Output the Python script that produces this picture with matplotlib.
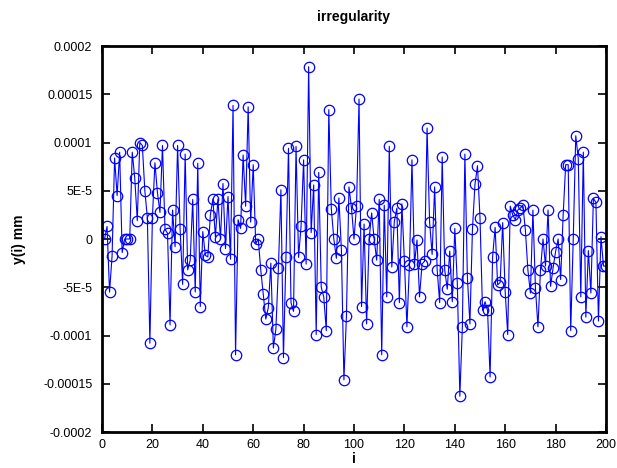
import matplotlib
matplotlib.use("Agg")
import matplotlib.pyplot as plt

plt.rcParams['font.family'] = ['Liberation Sans', 'DejaVu Sans']

# sample index and irregularity values (mm)
idx = list(range(1, 201))
irregularity = [
    0, 1.3e-5, -5.5e-5, -1.75e-5, 8.4e-5, 4.5e-5, 9e-5, -1.4e-5, 0, 0,
    0, 9e-5, 6.3e-5, 1.9e-5, 1e-4, 9.7e-5, 5e-5, 2.2e-5, -1.08e-4, 2.2e-5,
    7.9e-5, 4.8e-5, 2.75e-5, 9.7e-5, 1e-5, 6e-6, -8.9e-5, 3e-5, -8e-6, 9.7e-5,
    1e-5, -4.7e-5, 8.8e-5, -3.2e-5, -2.2e-5, 4.1e-5, -5.5e-5, 7.85e-5, -7e-5, 7.7e-6,
    -1.7e-5, -1.85e-5, 2.5e-5, 4.15e-5, 2e-6, 4.15e-5, 0, 5.75e-5, -1e-5, 4.4e-5,
    -2.1e-5, 1.385e-4, -1.2e-4, 2e-5, 1.1e-5, 8.7e-5, 3.4e-5, 1.37e-4, 1.75e-5, 7.7e-5,
    -5e-6, 0, -3.2e-5, -5.7e-5, -8.3e-5, -7.1e-5, -2.5e-5, -1.13e-4, -9.35e-5, -3e-5,
    5.1e-5, -1.23e-4, -1.85e-5, 9.4e-5, -6.6e-5, -7.5e-5, 9.6e-5, -1.9e-5, 1.35e-5, 8.2e-5,
    -2.6e-5, 1.785e-4, 6.6e-6, 5.6e-5, -9.9e-5, 6.9e-5, -5e-5, -6e-5, -9.5e-5, 1.34e-4,
    3.1e-5, 0, -2e-5, 4.25e-5, -1.1e-5, -1.46e-4, -8e-5, 5.4e-5, 3.2e-5, 0,
    3.4e-5, 1.45e-4, -7e-5, 1.55e-5, -8.8e-5, 0, 2.7e-5, 0, -2.2e-5, 4.1e-5,
    -1.2e-4, 3.5e-5, -6e-5, 9.6e-5, -2.9e-5, 1.8e-5, 3.2e-5, -6.6e-5, 3.65e-5, -2.25e-5,
    -9.1e-5, -2.7e-5, 8.2e-5, -2.6e-5, -1e-6, -6e-5, -2.6e-5, -2.3e-5, 1.15e-4, 1.75e-5,
    -1.6e-5, 5.4e-5, -3.2e-5, -6.6e-5, 8.5e-5, -3.2e-5, -5.2e-5, -1.25e-5, -6.5e-5, 1.1e-5,
    -4.6e-5, -1.63e-4, -9.1e-5, 8.8e-5, -4e-5, -8.8e-5, 1e-5, 5.65e-5, 7.6e-5, 2.2e-5,
    -7.4e-5, -6.5e-5, -7.4e-5, -1.43e-4, -1.85e-5, 1.2e-5, -4.75e-5, -4.5e-5, 1.7e-5, -5.5e-5,
    -9.9e-5, 3.4e-5, 2.5e-5, 2e-5, 3e-5, 3.2e-5, 3.5e-5, 9.4e-6, -3.2e-5, -5.6e-5,
    3e-5, -5.1e-5, -9.1e-5, -3.2e-5, 0, -2.8e-5, 3e-5, -4.9e-5, -3e-5, -1.3e-5,
    0, -4.2e-5, 2.5e-5, 7.7e-5, 7.7e-5, -9.5e-5, 0, 1.07e-4, 8.3e-5, -6e-5,
    9e-5, -8.1e-5, -1.2e-5, -5.6e-5, 4.2e-5, 3.8e-5, -8.5e-5, 2.4e-6, -2.8e-5, -2.8e-5,
]

x_ticks = list(range(0, 201, 20))
y_ticks = [0.0002, 0.00015, 0.0001, 5e-5, 0, -5e-5, -0.0001, -0.00015, -0.0002]
y_tick_labels = ['0.0002', '0.00015', '0.0001', '5E-5', '0', '-5E-5', '-0.0001', '-0.00015', '-0.0002']

fig = plt.figure(figsize=(6.17, 4.68), dpi=100)
ax = fig.add_axes([102 / 617, 1 - 432 / 468, (606 - 102) / 617, (432 - 46) / 468])

ax.plot(idx, irregularity, color='blue', linewidth=0.8, marker='o',
        markersize=7.5, markerfacecolor='none', markeredgecolor='blue', markeredgewidth=0.9)

ax.set_xlim(0, 200)
ax.set_ylim(-0.0002, 0.0002)
ax.set_xticks(x_ticks)
ax.set_yticks(y_ticks)
ax.set_yticklabels(y_tick_labels)
ax.tick_params(direction='in', top=True, right=True, length=6, width=1.2, labelsize=9)
ax.tick_params(axis='y', pad=7)
ax.tick_params(axis='x', pad=5)
for s in ax.spines.values():
    s.set_linewidth(2)

ax.set_title('irregularity', fontsize=10, fontweight='bold', pad=18)
ax.set_xlabel('i', fontsize=10, fontweight='bold', labelpad=1)
ax.set_ylabel('y(i) mm', fontsize=10, fontweight='bold', labelpad=12)

fig.savefig('out.png', dpi=100)
